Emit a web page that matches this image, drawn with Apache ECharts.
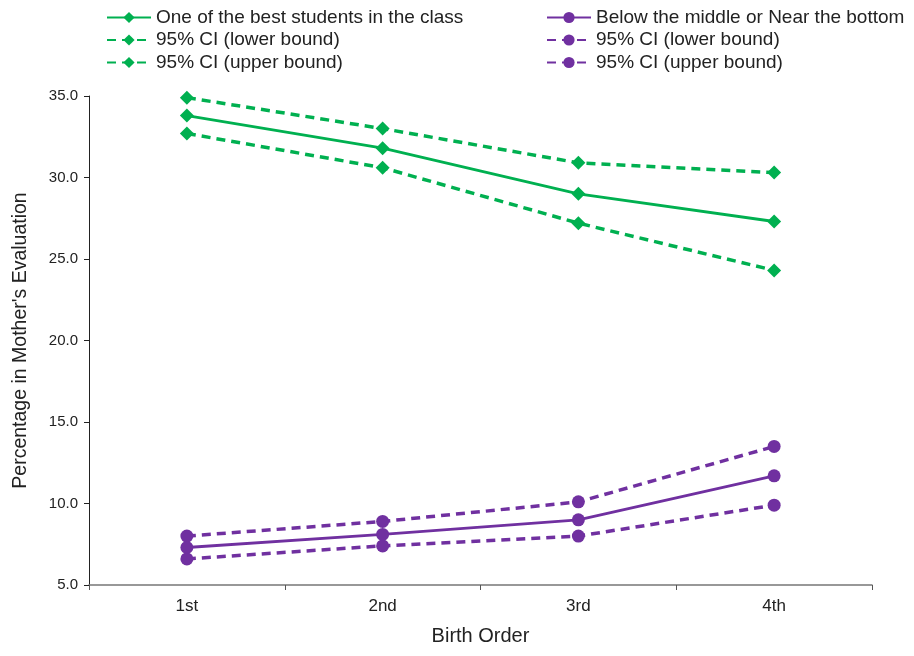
<!DOCTYPE html>
<html><head><meta charset="utf-8">
<script src="https://cdn.jsdelivr.net/npm/echarts@6/dist/echarts.min.js"></script>
<style>html,body{margin:0;padding:0;background:#fff}#c{width:914px;height:656px}</style>
</head><body><div id="c"></div>
<script>
const categories = ['1st', '2nd', '3rd', '4th'];
const bestMain = [33.8, 31.8, 29.0, 27.3];
const bestLower = [32.7, 30.6, 27.2, 24.3];
const bestUpper = [34.9, 33.0, 30.9, 30.3];
const lowMain = [7.3, 8.1, 9.0, 11.7];
const lowLower = [6.6, 7.4, 8.0, 9.9];
const lowUpper = [8.0, 8.9, 10.1, 13.5];
const names = ['One of the best students in the class', '95% CI (lower bound)', '95% CI (upper bound)',
  'Below the middle or Near the bottom', '95% CI (lower bound) ', '95% CI (upper bound) '];
const green = '#00b050', purple = '#7030a0';
const font = 'Liberation Sans, Arial, sans-serif';
function mk(name, data, color, sym, dashed) {
  return {
    name, type: 'line', data, symbol: sym, symbolSize: sym === 'diamond' ? 14 : 13,
    itemStyle: { color },
    lineStyle: { color, width: dashed ? 3.5 : 2.8, type: dashed ? [9, 6] : 'solid' },
    emphasis: { disabled: true }, animation: false, z: dashed ? 2 : 3
  };
}
const chart = echarts.init(document.getElementById('c'));
const legendCommon = {
  orient: 'vertical', itemWidth: 44, itemHeight: 14, itemGap: 3.5,
  textStyle: { fontFamily: font, fontSize: 19, color: '#222', padding: [0, 0, 0, 0] }
};
chart.setOption({
  animation: false,
  legend: [
    Object.assign({ left: 101, top: 3, data: names.slice(0, 3) }, legendCommon),
    Object.assign({ left: 541, top: 3, data: names.slice(3) }, legendCommon)
  ],
  grid: { left: 89, right: 42, top: 96, bottom: 71 },
  xAxis: {
    type: 'category', data: categories, boundaryGap: true,
    name: 'Birth Order', nameLocation: 'middle', nameGap: 41,
    nameTextStyle: { fontFamily: font, fontSize: 20, color: '#222' },
    axisLine: { lineStyle: { color: '#777', width: 1.5 } },
    axisTick: { show: true, length: 5, lineStyle: { color: '#555' } },
    axisLabel: { fontFamily: font, fontSize: 17, color: '#222', margin: 13 }
  },
  yAxis: {
    type: 'value', min: 5, max: 35, interval: 5,
    name: "Percentage in Mother's Evaluation", nameLocation: 'middle', nameGap: 58,
    nameTextStyle: { fontFamily: font, fontSize: 19.5, color: '#222' },
    axisLine: { show: true, lineStyle: { color: '#222', width: 1 } },
    axisTick: { show: true, length: 5, lineStyle: { color: '#222' } },
    splitLine: { show: false },
    axisLabel: { fontFamily: font, fontSize: 15, color: '#222', margin: 11, formatter: v => v.toFixed(1) }
  },
  series: [
    mk(names[0], bestMain, green, 'diamond', false),
    mk(names[1], bestLower, green, 'diamond', true),
    mk(names[2], bestUpper, green, 'diamond', true),
    mk(names[3], lowMain, purple, 'circle', false),
    mk(names[4], lowLower, purple, 'circle', true),
    mk(names[5], lowUpper, purple, 'circle', true)
  ]
});
</script></body></html>
